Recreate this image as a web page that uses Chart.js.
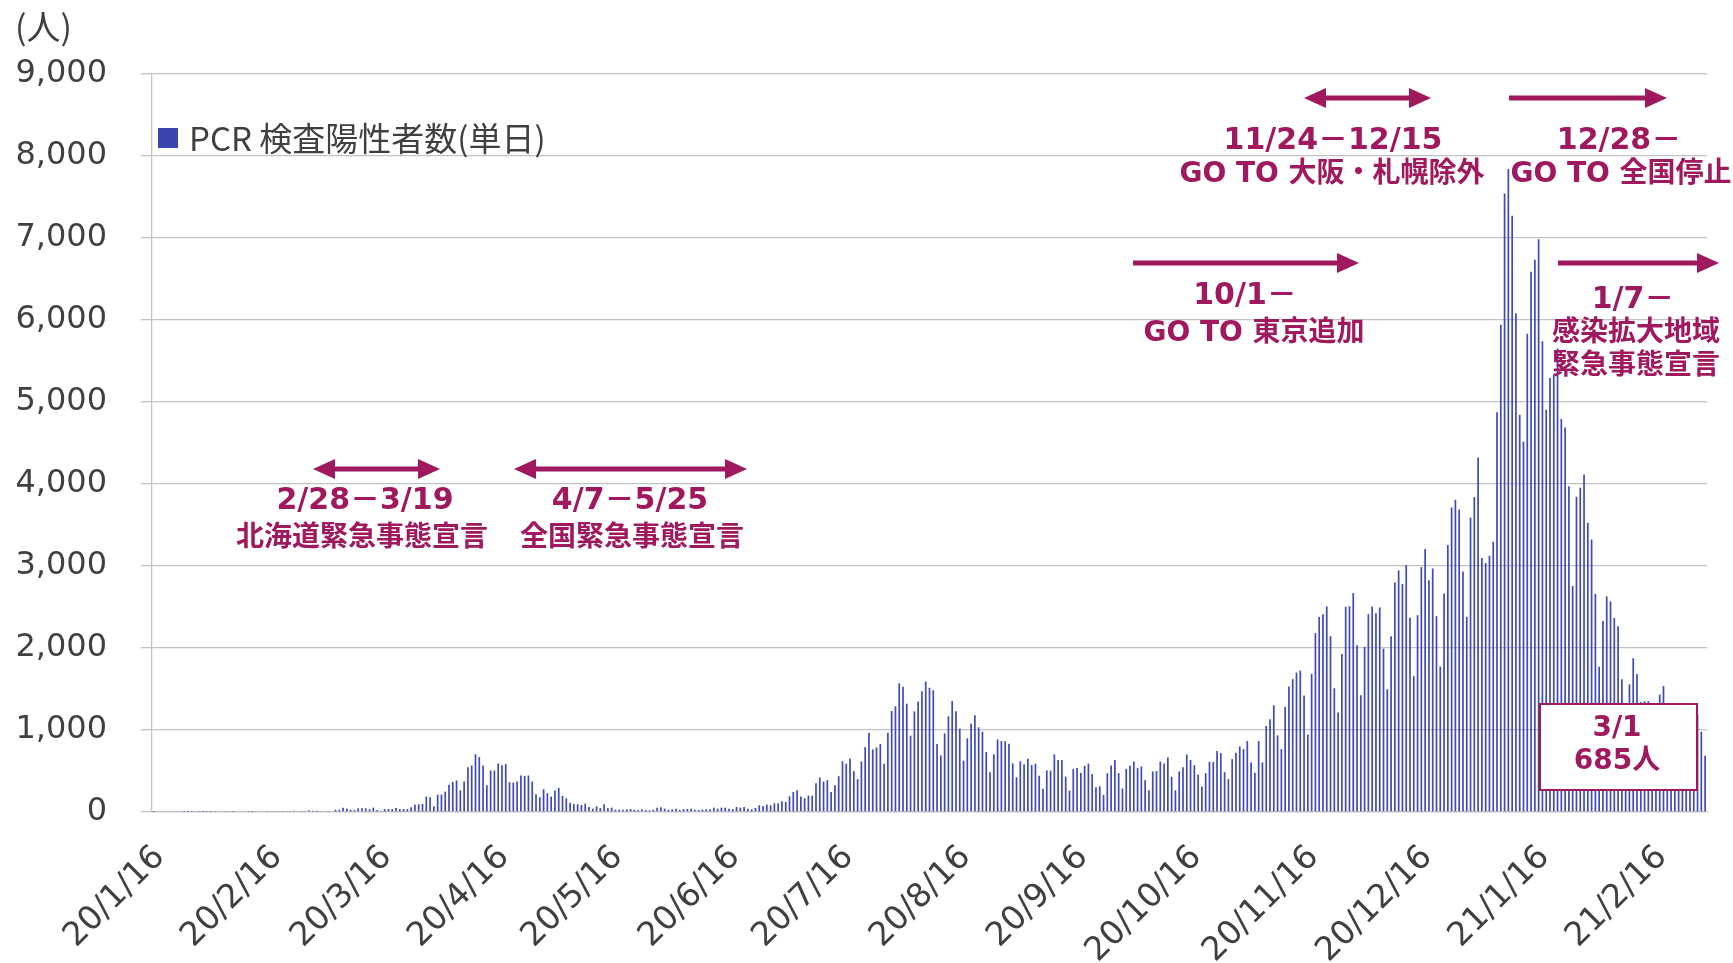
<!DOCTYPE html>
<html lang="ja">
<head>
<meta charset="utf-8">
<title>PCR検査陽性者数(単日)</title>
<script src="https://cdn.jsdelivr.net/npm/chart.js@4.4.1/dist/chart.umd.min.js"></script>
<style>
    html, body { margin: 0; padding: 0; background: #fff; }
    #wrap { width: 1733px; height: 963px; }
</style>
</head>
<body>
<div id="wrap"><canvas id="pcrChart" width="1733" height="963"></canvas></div>
<script>
// 日別の陽性者数 (2020/1/16 〜 2021/3/1)、月ごとに分けて保持
const jan20 = [1, 0, 0, 0, 0, 0, 0, 0, 1, 1, 1, 0, 3, 1, 4, 2];
const feb20 = [3, 0, 0, 3, 0, 1, 0, 0, 0, 2, 1, 0, 8, 8, 12, 6, 6, 9, 13, 11, 11, 15, 8, 12, 10, 20, 16, 16, 6];
const mar20 = [8, 5, 7, 28, 28, 53, 41, 28, 24, 45, 45, 45, 33, 53, 24, 15, 36, 36, 36, 49, 36, 36, 36, 57, 90, 94, 98, 188, 180, 69, 212];
const apr20 = [212, 249, 331, 367, 384, 265, 371, 547, 567, 706, 669, 567, 326, 506, 506, 592, 571, 584, 363, 359, 371, 445, 441, 445, 371, 216, 180, 278, 229, 188];
const may20 = [261, 294, 196, 167, 114, 98, 94, 86, 102, 61, 41, 69, 49, 94, 45, 53, 28, 28, 28, 33, 36, 28, 24, 33, 24, 20, 28, 53, 57, 41, 28];
const jun20 = [33, 41, 24, 36, 36, 41, 28, 24, 28, 33, 33, 53, 41, 53, 53, 41, 36, 61, 53, 61, 41, 33, 49, 82, 73, 90, 82, 106, 106, 131];
const jul20 = [122, 192, 245, 265, 188, 167, 200, 198, 351, 420, 371, 388, 245, 326, 437, 620, 588, 653, 498, 400, 616, 792, 967, 763, 787, 828, 588, 967, 1232, 1289, 1569];
const aug20 = [1528, 1321, 931, 1228, 1346, 1472, 1590, 1516, 1484, 829, 691, 959, 1167, 1354, 1228, 1016, 626, 898, 1077, 1179, 1033, 980, 732, 484, 703, 886, 866, 862, 833, 593, 423];
const sep20 = [618, 581, 650, 573, 589, 443, 285, 508, 504, 703, 634, 634, 431, 260, 524, 537, 477, 564, 591, 462, 302, 314, 208, 473, 567, 633, 473, 286, 526, 563];
const oct20 = [616, 535, 555, 388, 265, 494, 498, 616, 592, 665, 429, 265, 494, 547, 702, 633, 571, 453, 310, 473, 612, 608, 743, 718, 486, 400, 645, 722, 800, 767, 865];
const nov20 = [604, 478, 865, 604, 1049, 1131, 1302, 935, 766, 1280, 1530, 1620, 1701, 1724, 1422, 946, 1685, 2182, 2380, 2412, 2506, 2144, 1509, 1212, 1928, 2502, 2510, 2669, 2034, 1424];
const dec20 = [2014, 2412, 2506, 2425, 2494, 1993, 1497, 2144, 2799, 2946, 2779, 3011, 2368, 1656, 2400, 2986, 3206, 2827, 2970, 2388, 1774, 2665, 3255, 3714, 3808, 3690, 2933, 2380, 3592, 3840, 4322];
const jan21 = [3099, 3036, 3125, 3297, 4875, 5943, 7542, 7840, 7271, 6083, 4844, 4516, 5833, 6589, 6734, 6984, 5740, 4906, 5292, 5339, 5651, 4792, 4688, 3974, 2755, 3844, 3953, 4115, 3526, 3323, 2661];
const feb21 = [1771, 2328, 2630, 2568, 2365, 2266, 1620, 1290, 1557, 1875, 1682, 1340, 1350, 1352, 1010, 1300, 1432, 1536, 1290, 1260, 1200, 1080, 740, 900, 1070, 1060, 1198, 979];
const mar21 = [685];

// 目盛りに表示する日付
const tickLabels = ['20/1/16', '20/2/16', '20/3/16', '20/4/16', '20/5/16', '20/6/16', '20/7/16',
    '20/8/16', '20/9/16', '20/10/16', '20/11/16', '20/12/16', '21/1/16', '21/2/16'];

const seriesName = 'PCR 検査陽性者数(単日)';
const yMax = 9000;
const yStep = 1000;

const MAGENTA = '#A0195F';
const TEXT_COLOR = '#404040';
const BAR_COLOR = '#3F4AB6';
const GRID_COLOR = '#C2C2C2';

const positives = [].concat(jan20, feb20, mar20, apr20, may20, jun20, jul20, aug20,
    sep20, oct20, nov20, dec20, jan21, feb21, mar21);

// 日付ラベル
const dayLabels = [];
const day = new Date(2020, 0, 16);
for (let i = 0; i < positives.length; i++) {
    dayLabels.push(String(day.getFullYear()).slice(2) + '/' + (day.getMonth() + 1) + '/' + day.getDate());
    day.setDate(day.getDate() + 1);
}

// 注記 (期間の矢印と説明文)
const notes = [
    { from: 313, to: 440, ay: 469, both: true, lines: [['2/28－3/19', 365, 501], ['北海道緊急事態宣言', 362, 539]] },
    { from: 514, to: 747, ay: 469, both: true, lines: [['4/7－5/25', 630, 501], ['全国緊急事態宣言', 632, 539]] },
    { from: 1133, to: 1359, ay: 263, both: false, lines: [['10/1－', 1245, 296], ['GO TO 東京追加', 1254, 334]] },
    { from: 1304, to: 1431, ay: 98, both: true, lines: [['11/24－12/15', 1333, 141], ['GO TO 大阪・札幌除外', 1332, 175]] },
    { from: 1509, to: 1667, ay: 98, both: false, lines: [['12/28－', 1619, 141], ['GO TO 全国停止', 1621, 175]] },
    { from: 1558, to: 1719, ay: 263, both: false, lines: [['1/7－', 1633, 300], ['感染拡大地域', 1636, 334], ['緊急事態宣言', 1636, 367]] }
];

function drawHead(ctx, x, y, dir) {
    ctx.beginPath();
    ctx.moveTo(x, y);
    ctx.lineTo(x - dir * 22, y - 10);
    ctx.lineTo(x - dir * 22, y + 10);
    ctx.closePath();
    ctx.fill();
}

const overlayPlugin = {
    id: 'overlay',
    afterDatasetsDraw(chart) {
        const ctx = chart.ctx;
        ctx.save();

        // 単位
        ctx.fillStyle = TEXT_COLOR;
        ctx.font = '34px "Noto Sans CJK JP"';
        ctx.textAlign = 'left';
        ctx.textBaseline = 'middle';
        ctx.fillText('(人)', 15, 27);

        // 凡例
        ctx.fillStyle = '#3A45B0';
        ctx.fillRect(158, 128, 20, 20);
        ctx.fillStyle = TEXT_COLOR;
        ctx.font = '33px "Noto Sans CJK JP"';
        ctx.fillText(seriesName, 189, 138);

        // 注記
        ctx.fillStyle = MAGENTA;
        ctx.strokeStyle = MAGENTA;
        ctx.lineWidth = 5;
        ctx.textAlign = 'center';
        notes.forEach(n => {
            const x1 = n.both ? n.from + 18 : n.from;
            ctx.beginPath();
            ctx.moveTo(x1, n.ay);
            ctx.lineTo(n.to - 18, n.ay);
            ctx.stroke();
            drawHead(ctx, n.to, n.ay, 1);
            if (n.both) drawHead(ctx, n.from, n.ay, -1);
            n.lines.forEach((l, k) => {
                ctx.font = (k === 0 ? 'bold 30px' : 'bold 28px') + ' "DejaVu Sans", "Noto Sans CJK JP"';
                ctx.fillText(l[0], l[1], l[2]);
            });
        });

        // 最新値の枠
        ctx.fillStyle = '#ffffff';
        ctx.fillRect(1540, 704, 157, 86);
        ctx.lineWidth = 2;
        ctx.strokeRect(1540, 704, 157, 86);
        ctx.fillStyle = MAGENTA;
        ctx.font = 'bold 28px "DejaVu Sans", "Noto Sans CJK JP"';
        ctx.fillText('3/1', 1617, 729);
        ctx.fillText(positives[positives.length - 1] + '人', 1617, 762);

        ctx.restore();
    }
};

const ctx = document.getElementById('pcrChart').getContext('2d');
const pcrChart = new Chart(ctx, {
    type: 'bar',
    data: {
        labels: dayLabels,
        datasets: [{
            label: seriesName,
            data: positives,
            backgroundColor: BAR_COLOR,
            barPercentage: 0.45,
            categoryPercentage: 1.0
        }]
    },
    options: {
        responsive: false,
        animation: false,
        layout: {
            padding: { top: 74, right: 26, bottom: 0, left: 0 }
        },
        scales: {
            x: {
                grid: { display: false, drawTicks: false },
                border: { display: true, color: GRID_COLOR, width: 1.3 },
                ticks: {
                    autoSkip: false,
                    minRotation: 45,
                    maxRotation: 45,
                    padding: 26,
                    labelOffset: 6,
                    color: TEXT_COLOR,
                    font: { family: '"DejaVu Sans"', size: 33 },
                    callback: function(value) {
                        const l = this.getLabelForValue(value);
                        return tickLabels.includes(l) ? l : '';
                    }
                },
                afterFit: function(scale) {
                    scale.height = 151;
                    scale.paddingLeft = 0;
                    scale.paddingRight = 0;
                }
            },
            y: {
                min: 0,
                max: yMax,
                grid: { color: GRID_COLOR, lineWidth: 1.3, tickLength: 11 },
                border: { display: true, color: GRID_COLOR, width: 1.3 },
                ticks: {
                    stepSize: yStep,
                    padding: 34,
                    color: TEXT_COLOR,
                    font: { family: '"DejaVu Sans"', size: 32 },
                    callback: v => v.toLocaleString('en-US')
                },
                afterFit: function(scale) { scale.width = 152; }
            }
        },
        plugins: {
            legend: { display: false },
            tooltip: { enabled: false }
        }
    },
    plugins: [overlayPlugin]
});
</script>
</body>
</html>
